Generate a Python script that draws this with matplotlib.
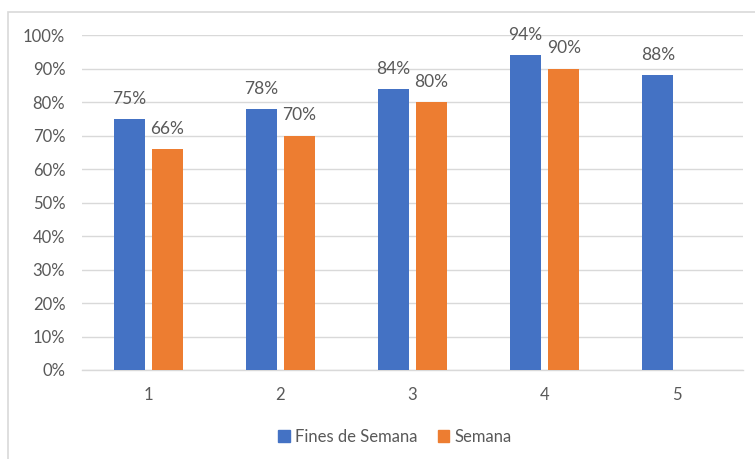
import numpy as np
import matplotlib.pyplot as plt
from matplotlib.patches import Rectangle, Patch
from matplotlib.ticker import PercentFormatter

plt.rcParams['font.family'] = ['Lato', 'DejaVu Sans']

categories = ['1', '2', '3', '4', '5']
fines_semana = [75, 78, 84, 94, 88]
semana = [66, 70, 80, 90, None]

blue = '#4472C4'
orange = '#ED7D31'
grid_c = '#D9D9D9'
text_c = '#595959'

fig = plt.figure(figsize=(7.55, 4.59), dpi=100)
ax = fig.add_axes([0.1086, 0.1939, 0.8754, 0.7298])

# chart border (only left and top show, the rest is cropped)
fig.patches.append(Rectangle((8 / 755, -0.1), 1.2, (459 - 12) / 459 + 0.1,
                             transform=fig.transFigure, fill=False,
                             edgecolor=grid_c, linewidth=1.2))

x = np.arange(1, len(categories) + 1)
w = 0.235
off = 0.144

for xi, v in zip(x, fines_semana):
    ax.bar(xi - off, v, w, color=blue, zorder=3)
    ax.text(xi - off, v + 4.5, f'{v}%', ha='center', va='baseline',
            fontsize=12.5, color=text_c)
for xi, v in zip(x, semana):
    if v is None:
        continue
    ax.bar(xi + off, v, w, color=orange, zorder=3)
    ax.text(xi + off, v + 4.5, f'{v}%', ha='center', va='baseline',
            fontsize=12.5, color=text_c)

ax.set_xlim(0.5, 5.5)
ax.set_ylim(0, 100)
ax.set_yticks(np.arange(0, 101, 10))
ax.yaxis.set_major_formatter(PercentFormatter(decimals=0))
ax.set_xticks(x)
ax.set_xticklabels(categories)
ax.grid(axis='y', color=grid_c, linewidth=1, zorder=0)
for s in ['top', 'right', 'left']:
    ax.spines[s].set_visible(False)
ax.spines['bottom'].set_color(grid_c)
ax.spines['bottom'].set_linewidth(1)
ax.tick_params(length=0, labelsize=12, colors=text_c)
ax.tick_params(axis='y', pad=12)
ax.tick_params(axis='x', pad=12)

handles = [Patch(color=blue), Patch(color=orange)]
fig.legend(handles, ['Fines de Semana', 'Semana'], loc='center',
           bbox_to_anchor=(395 / 755, 1 - 437 / 459), ncol=2, frameon=False,
           fontsize=12, handlelength=0.7, handleheight=0.7,
           handletextpad=0.3, columnspacing=1.2, labelcolor=text_c)

fig.savefig('out.png', dpi=100)
